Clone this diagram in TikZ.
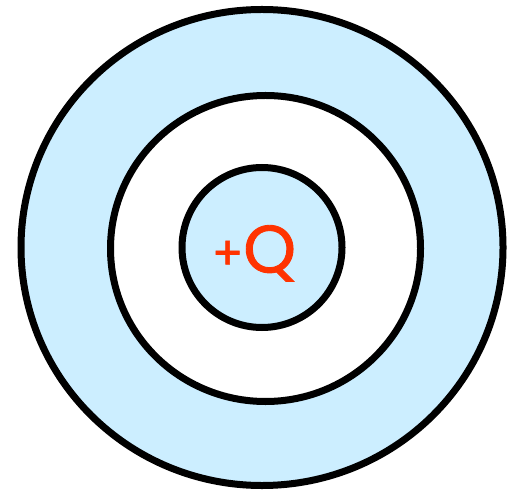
\documentclass[tikz,border=0pt]{standalone}
\usepackage{fontspec}
\newfontfamily\ladungfont[BoldFont=Poppins, BoldFeatures={FakeBold=1.3}]{Poppins}
\usetikzlibrary{
  calc % For coordinate calculations
}
\definecolor{hellblau}{HTML}{CCEEFF}
\definecolor{ladungrot}{HTML}{FF3300}

\begin{document}
\begin{tikzpicture}[
      x=1pt, y=1pt,
      schale/.style={draw=black, line width=7pt}, % Style for the shells
      ladung/.style={text=ladungrot, font=\ladungfont\bfseries\fontsize{67}{67}\selectfont, inner sep=0pt}, % Style for the charge
    ]

    % Rahmen
    \useasboundingbox (0,0) rectangle (510,490);

    % Koordinaten von Punkte
    \coordinate (M) at (262, 242.5);
    \coordinate (M2) at (265.5, 241.5);

    % Kugelschalen
    \draw[schale, fill=hellblau] (M) ellipse [x radius=241, y radius=238];
    \draw[schale, fill=white] (M2) ellipse [x radius=155, y radius=153];
    \draw[schale, fill=hellblau] (M) circle [radius=80];

    % Ladung
    \node[ladung, anchor=base] (Q) at ($(M) + (-8, -25)$) {{\fontsize{46}{46}\selectfont\raisebox{3pt}{+}}Q};

  \end{tikzpicture}
\end{document}
